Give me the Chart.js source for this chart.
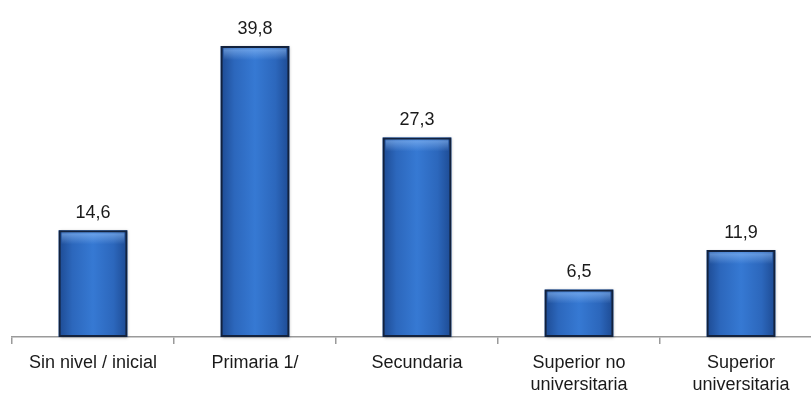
<!DOCTYPE html>
<html>
<head>
<meta charset="utf-8">
<script src="https://cdn.jsdelivr.net/npm/chart.js@4/dist/chart.umd.min.js"></script>
<style>
  html, body { margin: 0; padding: 0; background: #fff; overflow: hidden; }
  #wrap { width: 830px; height: 394px; }
</style>
</head>
<body>
<div id="wrap"><canvas id="c" width="830" height="394"></canvas></div>
<script>
// Nivel educativo alcanzado (%)
const categories = [
  'Sin nivel / inicial',
  'Primaria 1/',
  'Secundaria',
  ['Superior no', 'universitaria'],
  ['Superior', 'universitaria']
];
const values = [14.6, 39.8, 27.3, 6.5, 11.9];

const FONT = '"Liberation Sans", Arial, sans-serif';

// Paints the shaded blue body of each bar underneath its outline
const barShading = {
  id: 'barShading',
  beforeDatasetsDraw(chart) {
    const ctx = chart.ctx;
    chart.getDatasetMeta(0).data.forEach(el => {
      const left = el.x - el.width / 2;
      const right = el.x + el.width / 2;
      const top = el.y, bottom = el.base;
      ctx.save();
      ctx.shadowColor = 'rgba(0,0,0,0.25)';
      ctx.shadowBlur = 3;
      ctx.shadowOffsetX = 1;
      ctx.shadowOffsetY = 1;
      const g = ctx.createLinearGradient(left, 0, right, 0);
      g.addColorStop(0, '#1d4a92');
      g.addColorStop(0.2, '#2c67bc');
      g.addColorStop(0.5, '#3679d3');
      g.addColorStop(0.8, '#2c67bc');
      g.addColorStop(1, '#1d4a92');
      ctx.fillStyle = g;
      ctx.fillRect(left, top, right - left, bottom - top);
      ctx.restore();
      // soft highlight along the top edge
      ctx.save();
      const h = Math.min(14, bottom - top);
      const v = ctx.createLinearGradient(0, top, 0, top + h);
      v.addColorStop(0, 'rgba(120,170,235,0.2)');
      v.addColorStop(0.3, 'rgba(150,195,250,0.5)');
      v.addColorStop(1, 'rgba(150,195,250,0)');
      ctx.fillStyle = v;
      ctx.fillRect(left + 3, top, right - left - 6, h);
      ctx.restore();
    });
  }
};

// Writes each value above its bar, with a decimal comma
const valueLabels = {
  id: 'valueLabels',
  afterDatasetsDraw(chart) {
    const ctx = chart.ctx;
    const ds = chart.data.datasets[0];
    ctx.save();
    ctx.font = '18px ' + FONT;
    ctx.fillStyle = '#1a1a1a';
    ctx.textAlign = 'center';
    ctx.textBaseline = 'alphabetic';
    chart.getDatasetMeta(0).data.forEach((el, i) => {
      const txt = ds.data[i].toFixed(1).replace('.', ',');
      ctx.fillText(txt, el.x, el.y - 12);
    });
    ctx.restore();
  }
};

new Chart(document.getElementById('c'), {
  type: 'bar',
  data: {
    labels: categories,
    datasets: [{
      data: values,
      backgroundColor: 'rgba(0,0,0,0)',
      borderColor: '#13223d',
      borderWidth: 2,
      borderSkipped: false,
      categoryPercentage: 1,
      barPercentage: 0.425
    }]
  },
  options: {
    responsive: false,
    animation: false,
    devicePixelRatio: 1,
    layout: { padding: { left: 12, right: 8, top: 8, bottom: 0 } },
    plugins: { legend: { display: false }, tooltip: { enabled: false } },
    scales: {
      y: { display: false, min: 0, max: 45 },
      x: {
        afterFit(scale) { scale.height = 57; },
        grid: {
          display: true,
          drawOnChartArea: false,
          drawTicks: true,
          tickLength: 7,
          color: '#9a9a9a',
          lineWidth: 1.5
        },
        border: { display: true, color: '#9a9a9a', width: 1.5 },
        ticks: {
          color: '#1a1a1a',
          padding: 8,
          maxRotation: 0,
          autoSkip: false,
          font: { family: FONT, size: 18, lineHeight: 1.22 }
        }
      }
    }
  },
  plugins: [barShading, valueLabels]
});
</script>
</body>
</html>
